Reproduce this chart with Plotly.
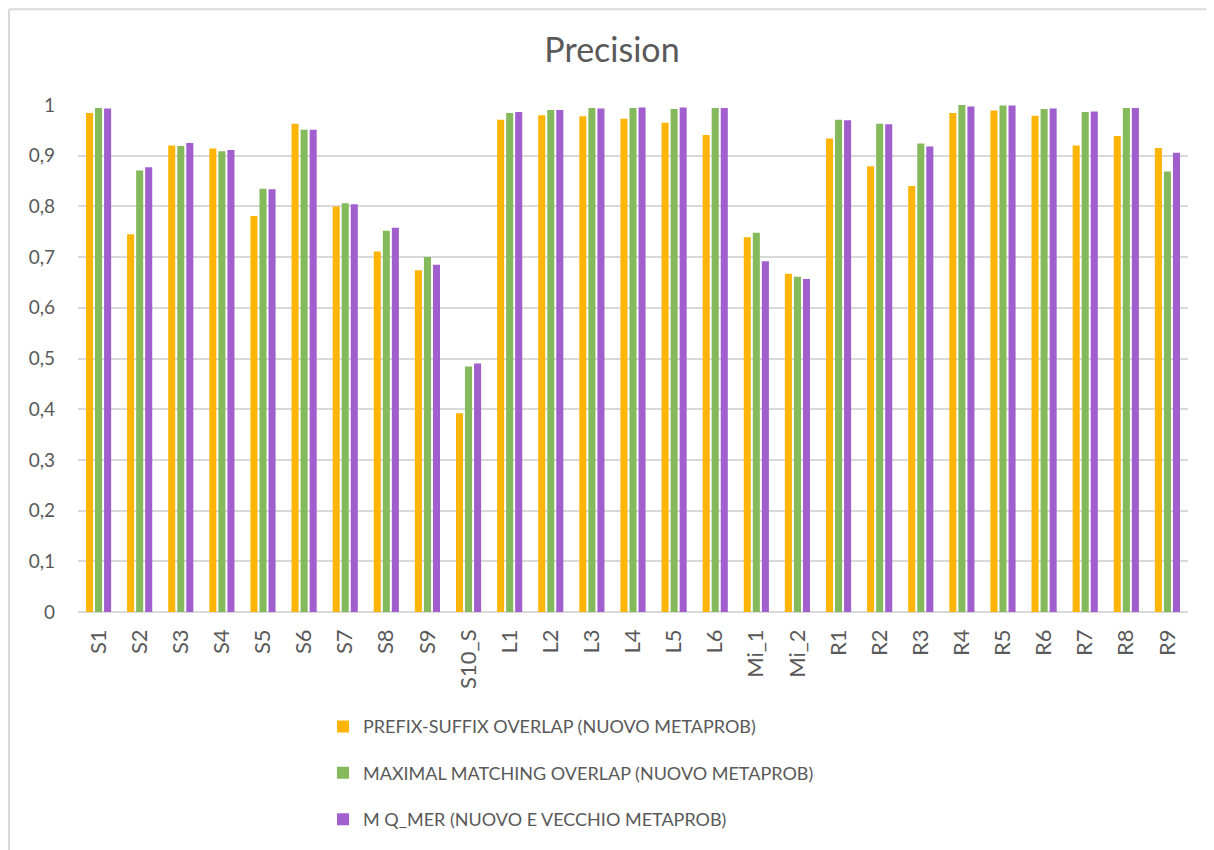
import plotly.graph_objects as go

categories = ["S1", "S2", "S3", "S4", "S5", "S6", "S7", "S8", "S9", "S10_S",
              "L1", "L2", "L3", "L4", "L5", "L6", "Mi_1", "Mi_2",
              "R1", "R2", "R3", "R4", "R5", "R6", "R7", "R8", "R9"]

prefix_suffix = [0.984, 0.745, 0.920, 0.914, 0.781, 0.963, 0.800, 0.711, 0.674, 0.392,
                 0.971, 0.980, 0.978, 0.973, 0.965, 0.941, 0.739, 0.667,
                 0.934, 0.879, 0.840, 0.984, 0.989, 0.979, 0.920, 0.939, 0.915]
maximal_matching = [0.994, 0.871, 0.919, 0.909, 0.835, 0.951, 0.806, 0.752, 0.700, 0.484,
                    0.984, 0.990, 0.994, 0.994, 0.992, 0.994, 0.748, 0.661,
                    0.971, 0.963, 0.924, 1.000, 0.999, 0.992, 0.986, 0.994, 0.869]
mq_mer = [0.993, 0.877, 0.925, 0.911, 0.834, 0.951, 0.804, 0.758, 0.685, 0.490,
          0.986, 0.990, 0.993, 0.995, 0.995, 0.994, 0.692, 0.657,
          0.970, 0.962, 0.918, 0.997, 0.999, 0.993, 0.987, 0.994, 0.906]

series_names = ["PREFIX-SUFFIX OVERLAP (NUOVO METAPROB)",
                "MAXIMAL MATCHING OVERLAP (NUOVO METAPROB)",
                "M Q_MER (NUOVO E VECCHIO METAPROB)"]
series_values = [prefix_suffix, maximal_matching, mq_mer]
colors = ["#FFB508", "#84BA5B", "#A05FCC"]

y_ticks = [0, 0.1, 0.2, 0.3, 0.4, 0.5, 0.6, 0.7, 0.8, 0.9, 1]
y_ticktext = ["0", "0,1", "0,2", "0,3", "0,4", "0,5", "0,6", "0,7", "0,8", "0,9", "1"]

TEXT = "#595959"
FONT = "Lato"

fig = go.Figure()
for i, (name, vals, col) in enumerate(zip(series_names, series_values, colors)):
    fig.add_trace(go.Bar(
        x=categories, y=vals, name=name,
        marker=dict(color=col, line=dict(width=0)),
        legendgroup=f"g{i}",
    ))

# page has an 8px body margin; figure coords = page coords - 8
W, H = 1206, 842
L, R, T, B = 70, 26, 97, 234
pw, ph = W - L - R, H - T - B

fig.update_layout(
    width=W, height=H,
    margin=dict(l=L, r=R, t=T, b=B),
    paper_bgcolor="white", plot_bgcolor="white",
    barmode="group", bargap=0.34, bargroupgap=0.22,
    separators=",.",
    font=dict(family=FONT, color=TEXT, size=18),
    title=dict(text="Precision", x=604 / W, xanchor="center", y=1 - 42 / H, yanchor="middle",
               font=dict(family=FONT, size=34, color=TEXT)),
    xaxis=dict(type="category", tickangle=-90, showgrid=False, showline=False,
               ticks="", ticklabelstandoff=12,
               tickfont=dict(size=22, color=TEXT, family=FONT)),
    yaxis=dict(range=[0, 1], tickvals=y_ticks, ticktext=y_ticktext,
               showgrid=True, gridcolor="#D9D9D9", gridwidth=1.5,
               zeroline=True, zerolinecolor="#D9D9D9", zerolinewidth=1.5,
               showline=False, ticks="", ticklabelstandoff=22,
               tickfont=dict(size=19, color=TEXT, family=FONT)),
    legend=dict(orientation="v", x=(315 - L) / pw, xanchor="left",
                y=(608 - 705) / ph, yanchor="top",
                traceorder="grouped", tracegroupgap=20,
                font=dict(size=18, color=TEXT, family=FONT),
                itemwidth=30, bgcolor="rgba(0,0,0,0)"),
    showlegend=True,
)

# outer chart frame (cropped on right and bottom)
x_left = (1 - L) / pw
y_top = 1 + (T - 0.5) / ph
fig.add_shape(type="line", xref="paper", yref="paper",
              x0=x_left, x1=1.2, y0=y_top, y1=y_top,
              line=dict(color="#D9D9D9", width=2))
fig.add_shape(type="line", xref="paper", yref="paper",
              x0=x_left, x1=x_left, y0=-1, y1=y_top,
              line=dict(color="#D9D9D9", width=2))

fig.write_html("out.html")
